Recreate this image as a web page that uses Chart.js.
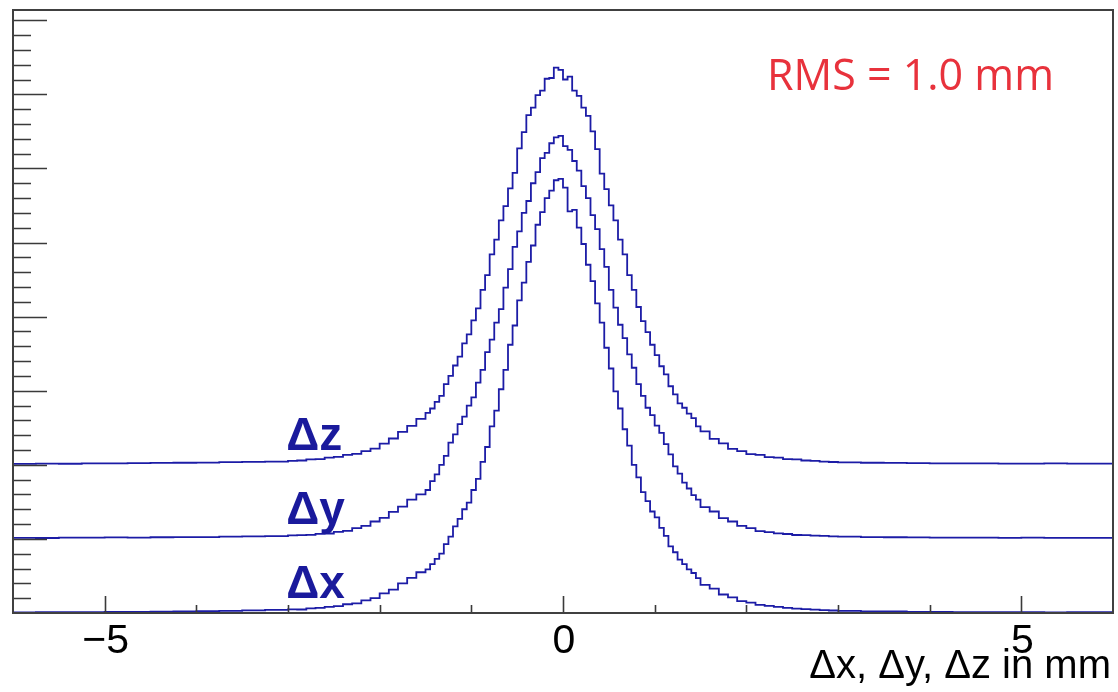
<!DOCTYPE html>
<html>
<head>
<meta charset="utf-8">
<script src="https://cdn.jsdelivr.net/npm/chart.js@4/dist/chart.umd.min.js"></script>
<style>
  body { margin: 0; background: #fff; }
  #wrap { width: 1118px; height: 692px; }
</style>
</head>
<body>
<div id="wrap"><canvas id="resChart" width="1118" height="692"></canvas></div>
<script>
// bin edges in mm (finer bins in the core, wide bins in the flat tails)
const binEdges = [
  -6, -5.75, -5.5, -5.25, -5, -4.75, -4.5, -4.25, -4, -3.75, -3.5, -3.25,
  -3, -2.9, -2.8, -2.7, -2.6, -2.5, -2.4, -2.3, -2.2, -2.1, -2, -1.9, -1.8, -1.7, -1.6,
  -1.5, -1.45, -1.4, -1.35, -1.3, -1.25, -1.2, -1.15, -1.1, -1.05, -1, -0.95, -0.9, -0.85, -0.8,
  -0.75, -0.7, -0.65, -0.6, -0.55, -0.5, -0.45, -0.4, -0.35, -0.3, -0.25, -0.2, -0.15, -0.1, -0.05,
  0, 0.05, 0.1, 0.15, 0.2, 0.25, 0.3, 0.35, 0.4, 0.45, 0.5, 0.55, 0.6, 0.65, 0.7,
  0.75, 0.8, 0.85, 0.9, 0.95, 1, 1.05, 1.1, 1.15, 1.2, 1.25, 1.3, 1.35, 1.4, 1.45,
  1.5, 1.6, 1.7, 1.8, 1.9, 2, 2.1, 2.2, 2.3, 2.4, 2.5, 2.6, 2.7, 2.8, 2.9,
  3, 3.25, 3.5, 3.75, 4, 4.25, 4.5, 4.75, 5, 5.25, 5.5, 5.75, 6
];

// bin contents (arbitrary units, one major y tick = 1)
const dxCounts = [
  0.01, 0.008, 0.012, 0.01, 0.012, 0.015, 0.014, 0.018, 0.02, 0.024, 0.03, 0.036,
  0.042, 0.048, 0.047, 0.063, 0.068, 0.084, 0.092, 0.118, 0.131, 0.17, 0.2, 0.265, 0.315, 0.4, 0.475,
  0.55, 0.59, 0.66, 0.73, 0.80, 0.93, 1.03, 1.17, 1.27, 1.40, 1.49, 1.66, 1.81, 2.04, 2.24,
  2.52, 2.73, 3.02, 3.28, 3.62, 3.88, 4.22, 4.46, 4.74, 4.96, 5.24, 5.41, 5.60, 5.70, 5.84,
  5.86, 5.74, 5.42, 5.44, 5.20, 4.98, 4.70, 4.48, 4.18, 3.92, 3.58, 3.30, 2.99, 2.76, 2.48,
  2.26, 2.00, 1.83, 1.63, 1.51, 1.37, 1.29, 1.15, 1.04, 0.90, 0.82, 0.72, 0.66, 0.59, 0.54,
  0.47, 0.38, 0.33, 0.25, 0.21, 0.16, 0.14, 0.11, 0.095, 0.082, 0.07, 0.058, 0.052, 0.046, 0.04,
  0.034, 0.028, 0.022, 0.02, 0.016, 0.014, 0.012, 0.013, 0.01, 0.011, 0.009, 0.01
];
const dyCounts = [
  0.012, 0.015, 0.012, 0.018, 0.016, 0.02, 0.018, 0.022, 0.025, 0.024, 0.03, 0.034,
  0.038, 0.047, 0.052, 0.054, 0.068, 0.073, 0.094, 0.108, 0.145, 0.176, 0.235, 0.285, 0.365, 0.435, 0.53,
  0.60, 0.66, 0.78, 0.87, 1.00, 1.12, 1.30, 1.41, 1.55, 1.65, 1.80, 1.91, 2.11, 2.28, 2.52,
  2.69, 2.92, 3.10, 3.39, 3.64, 3.94, 4.15, 4.40, 4.56, 4.80, 4.95, 5.14, 5.21, 5.34, 5.42,
  5.44, 5.30, 5.25, 5.10, 4.97, 4.76, 4.60, 4.37, 4.18, 3.91, 3.67, 3.36, 3.12, 2.89, 2.71,
  2.49, 2.31, 2.09, 1.93, 1.77, 1.67, 1.53, 1.43, 1.28, 1.14, 0.98, 0.88, 0.76, 0.68, 0.59,
  0.53, 0.43, 0.37, 0.28, 0.235, 0.175, 0.145, 0.105, 0.092, 0.074, 0.066, 0.053, 0.051, 0.044, 0.041,
  0.033, 0.03, 0.025, 0.022, 0.02, 0.018, 0.017, 0.016, 0.015, 0.016, 0.014, 0.015
];
const dzCounts = [
  0.015, 0.012, 0.016, 0.014, 0.018, 0.02, 0.022, 0.025, 0.028, 0.03, 0.035, 0.04,
  0.043, 0.053, 0.058, 0.072, 0.078, 0.098, 0.107, 0.134, 0.147, 0.184, 0.218, 0.285, 0.355, 0.445, 0.525,
  0.62, 0.70, 0.76, 0.85, 0.93, 1.09, 1.20, 1.34, 1.46, 1.64, 1.76, 1.95, 2.11, 2.36, 2.56,
  2.84, 3.04, 3.30, 3.49, 3.73, 3.94, 4.27, 4.49, 4.72, 4.82, 4.99, 5.05, 5.21, 5.22, 5.36,
  5.33, 5.20, 5.24, 5.05, 4.98, 4.82, 4.71, 4.50, 4.26, 3.93, 3.72, 3.50, 3.30, 3.04, 2.84,
  2.56, 2.36, 2.13, 1.94, 1.79, 1.62, 1.48, 1.33, 1.22, 1.06, 0.95, 0.83, 0.77, 0.69, 0.63,
  0.52, 0.45, 0.35, 0.29, 0.215, 0.185, 0.145, 0.135, 0.105, 0.097, 0.078, 0.072, 0.058, 0.052, 0.044,
  0.038, 0.033, 0.028, 0.025, 0.022, 0.02, 0.019, 0.018, 0.017, 0.016, 0.018, 0.016
];

const seriesNames = ['Δx', 'Δy', 'Δz'];
const seriesCounts = [dxCounts, dyCounts, dzCounts];
const seriesOffsets = [0, 1, 2];   // histograms are stacked one major tick apart

const xMajorTicks = [-5, 0, 5];
const xTickLabels = ['\u22125', '0', '5'];
const xMinorTicks = [-4, -3, -2, -1, 1, 2, 3, 4];
const xTitle = 'Δx, Δy, Δz in mm';
const rmsText = 'RMS = 1.0 mm';

const lineColor = '#1c1ca6';

// turn bins into stepped points (left edge of each bin + closing right edge)
function histPoints(counts, offset) {
  const pts = counts.map((c, i) => ({ x: binEdges[i], y: c + offset }));
  pts.push({ x: binEdges[binEdges.length - 1], y: counts[counts.length - 1] + offset });
  return pts;
}

// ROOT-like frame, inner ticks and text
const rootFrame = {
  id: 'rootFrame',
  afterDraw(chart) {
    const { ctx, chartArea: a, scales: { x, y } } = chart;
    ctx.save();

    // y ticks: long every unit, short every 0.2
    ctx.strokeStyle = '#3a3a3a';
    ctx.lineWidth = 1.6;
    ctx.beginPath();
    for (let k = 1; k <= 40; k++) {
      const v = k * 0.2;
      const py = Math.round(y.getPixelForValue(v)) + 0.5;
      if (py < a.top + 2) continue;
      const len = (k % 5 === 0) ? 34 : 18;
      ctx.moveTo(a.left, py);
      ctx.lineTo(a.left + len, py);
    }
    // x ticks
    xMajorTicks.forEach(v => {
      const px = Math.round(x.getPixelForValue(v)) + 0.5;
      ctx.moveTo(px, a.bottom);
      ctx.lineTo(px, a.bottom - 17);
    });
    xMinorTicks.forEach(v => {
      const px = Math.round(x.getPixelForValue(v)) + 0.5;
      ctx.moveTo(px, a.bottom);
      ctx.lineTo(px, a.bottom - 8);
    });
    ctx.stroke();

    // frame
    ctx.lineWidth = 2;
    ctx.strokeStyle = '#404040';
    ctx.strokeRect(a.left, a.top, a.right - a.left, a.bottom - a.top);

    // x tick labels
    ctx.fillStyle = '#000';
    ctx.font = '41px "Liberation Sans", Arial, sans-serif';
    ctx.textAlign = 'center';
    ctx.textBaseline = 'alphabetic';
    xMajorTicks.forEach((v, i) => {
      ctx.fillText(xTickLabels[i], x.getPixelForValue(v) + 1, a.bottom + 40);
    });

    // axis title, right aligned
    ctx.font = '40px "Liberation Sans", Arial, sans-serif';
    ctx.textAlign = 'right';
    ctx.fillText(xTitle, a.right - 2, a.bottom + 65);

    // series labels sitting on each baseline
    ctx.fillStyle = '#1a1a9c';
    ctx.font = 'bold 46px "Liberation Sans", Arial, sans-serif';
    ctx.textAlign = 'left';
    seriesNames.forEach((name, i) => {
      ctx.fillText(name, x.getPixelForValue(-3.02), y.getPixelForValue(seriesOffsets[i] + 0.2));
    });

    // RMS annotation
    ctx.fillStyle = '#e8323c';
    ctx.font = '43px "Open Sans", sans-serif';
    ctx.textAlign = 'left';
    ctx.fillText(rmsText, 767, 90);

    ctx.restore();
  }
};

const ctx = document.getElementById('resChart').getContext('2d');
const resChart = new Chart(ctx, {
  type: 'line',
  data: {
    datasets: seriesCounts.map((counts, i) => ({
      label: seriesNames[i],
      data: histPoints(counts, seriesOffsets[i]),
      stepped: 'after',
      borderColor: lineColor,
      borderWidth: 1.8,
      pointRadius: 0,
      fill: false
    }))
  },
  options: {
    responsive: false,
    animation: false,
    layout: { padding: { left: 13, top: 10, right: 5, bottom: 79 } },
    plugins: { legend: { display: false }, tooltip: { enabled: false } },
    scales: {
      x: { type: 'linear', min: -6, max: 6, display: false },
      y: { min: 0, max: 8.138, display: false }
    }
  },
  plugins: [rootFrame]
});
</script>
</body>
</html>
